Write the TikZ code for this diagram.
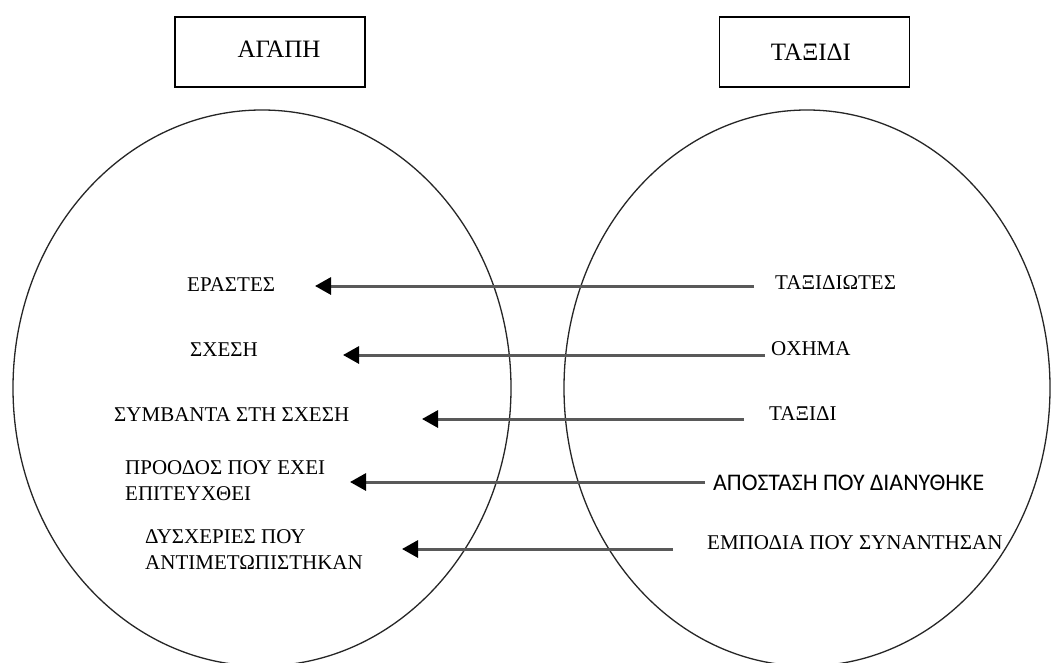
\documentclass[tikz,border=0pt]{standalone}
\usepackage{fontspec}
\setmainfont{Liberation Serif}
\newfontfamily\labelsans{Carlito}
\usetikzlibrary{arrows.meta}
\begin{document}
\begin{tikzpicture}[x=1pt,y=-1pt,
  frame/.style={draw, line width=1.4pt, minimum width=190pt, minimum height=70pt, inner sep=0pt},
  heading/.style={font=\fontsize{25}{29}\selectfont, inner sep=0pt},
  term/.style={font=\fontsize{21}{26}\selectfont, inner sep=0pt, anchor=west, align=left},
  link/.style={line width=3pt, draw=black!65, -{Triangle[length=16pt,width=17pt,color=black]}},
  ring/.style={line width=1.3pt, draw=black!85}]
\useasboundingbox (0,0) rectangle (1051,663);
\fill[white] (0,0) rectangle (1051,663);

% the two domains
\draw[ring] (262,388) ellipse [x radius=249, y radius=278];
\draw[ring] (807,388) ellipse [x radius=243, y radius=278];

% headings
\node[frame] (boxL) at (270,52) {};
\node[heading] (hL) at (279,49) {ΑΓΑΠΗ};
\node[frame] (boxR) at (814.5,52) {};
\node[heading] (hR) at (811,52) {ΤΑΞΙΔΙ};

% target domain terms
\node[term] (l1) at (187,285) {ΕΡΑΣΤΕΣ};
\node[term] (l2) at (190,350) {ΣΧΕΣΗ};
\node[term] (l3) at (114,415) {ΣΥΜΒΑΝΤΑ ΣΤΗ ΣΧΕΣΗ};
\node[term] (l4) at (125,481) {ΠΡΟΟΔΟΣ ΠΟΥ ΕΧΕΙ\\ΕΠΙΤΕΥΧΘΕΙ};
\node[term] (l5) at (145,550) {ΔΥΣΧΕΡΙΕΣ ΠΟΥ\\ΑΝΤΙΜΕΤΩΠΙΣΤΗΚΑΝ};

% source domain terms
\node[term] (r1) at (775,283) {ΤΑΞΙΔΙΩΤΕΣ};
\node[term] (r2) at (771,349) {ΟΧΗΜΑ};
\node[term] (r3) at (769,414) {ΤΑΞΙΔΙ};
\node[term, font=\labelsans\fontsize{23.8}{28}\selectfont] (r4) at (713,483) {ΑΠΟΣΤΑΣΗ ΠΟΥ ΔΙΑΝΥΘΗΚΕ};
\node[term] (r5) at (707,543) {ΕΜΠΟΔΙΑ ΠΟΥ ΣΥΝΑΝΤΗΣΑΝ};

% mappings
\draw[link, shorten <=21pt, shorten >=128pt] ([yshift=-3pt]r1.west) -- ([yshift=-3pt]r1.west -| l1.west);
\draw[link, shorten <=6pt, shorten >=153pt] ([yshift=-6pt]r2.west) -- ([yshift=-6pt]r2.west -| l2.west);
\draw[link, shorten <=25pt, shorten >=308pt] ([yshift=-5pt]r3.west) -- ([yshift=-5pt]r3.west -| l3.west);
\draw[link, shorten <=8pt, shorten >=225pt] ([yshift=1pt]r4.west) -- ([yshift=1pt]r4.west -| l4.west);
\draw[link, shorten <=34pt, shorten >=257pt] ([yshift=-6pt]r5.west) -- ([yshift=-6pt]r5.west -| l5.west);
\end{tikzpicture}
\end{document}
